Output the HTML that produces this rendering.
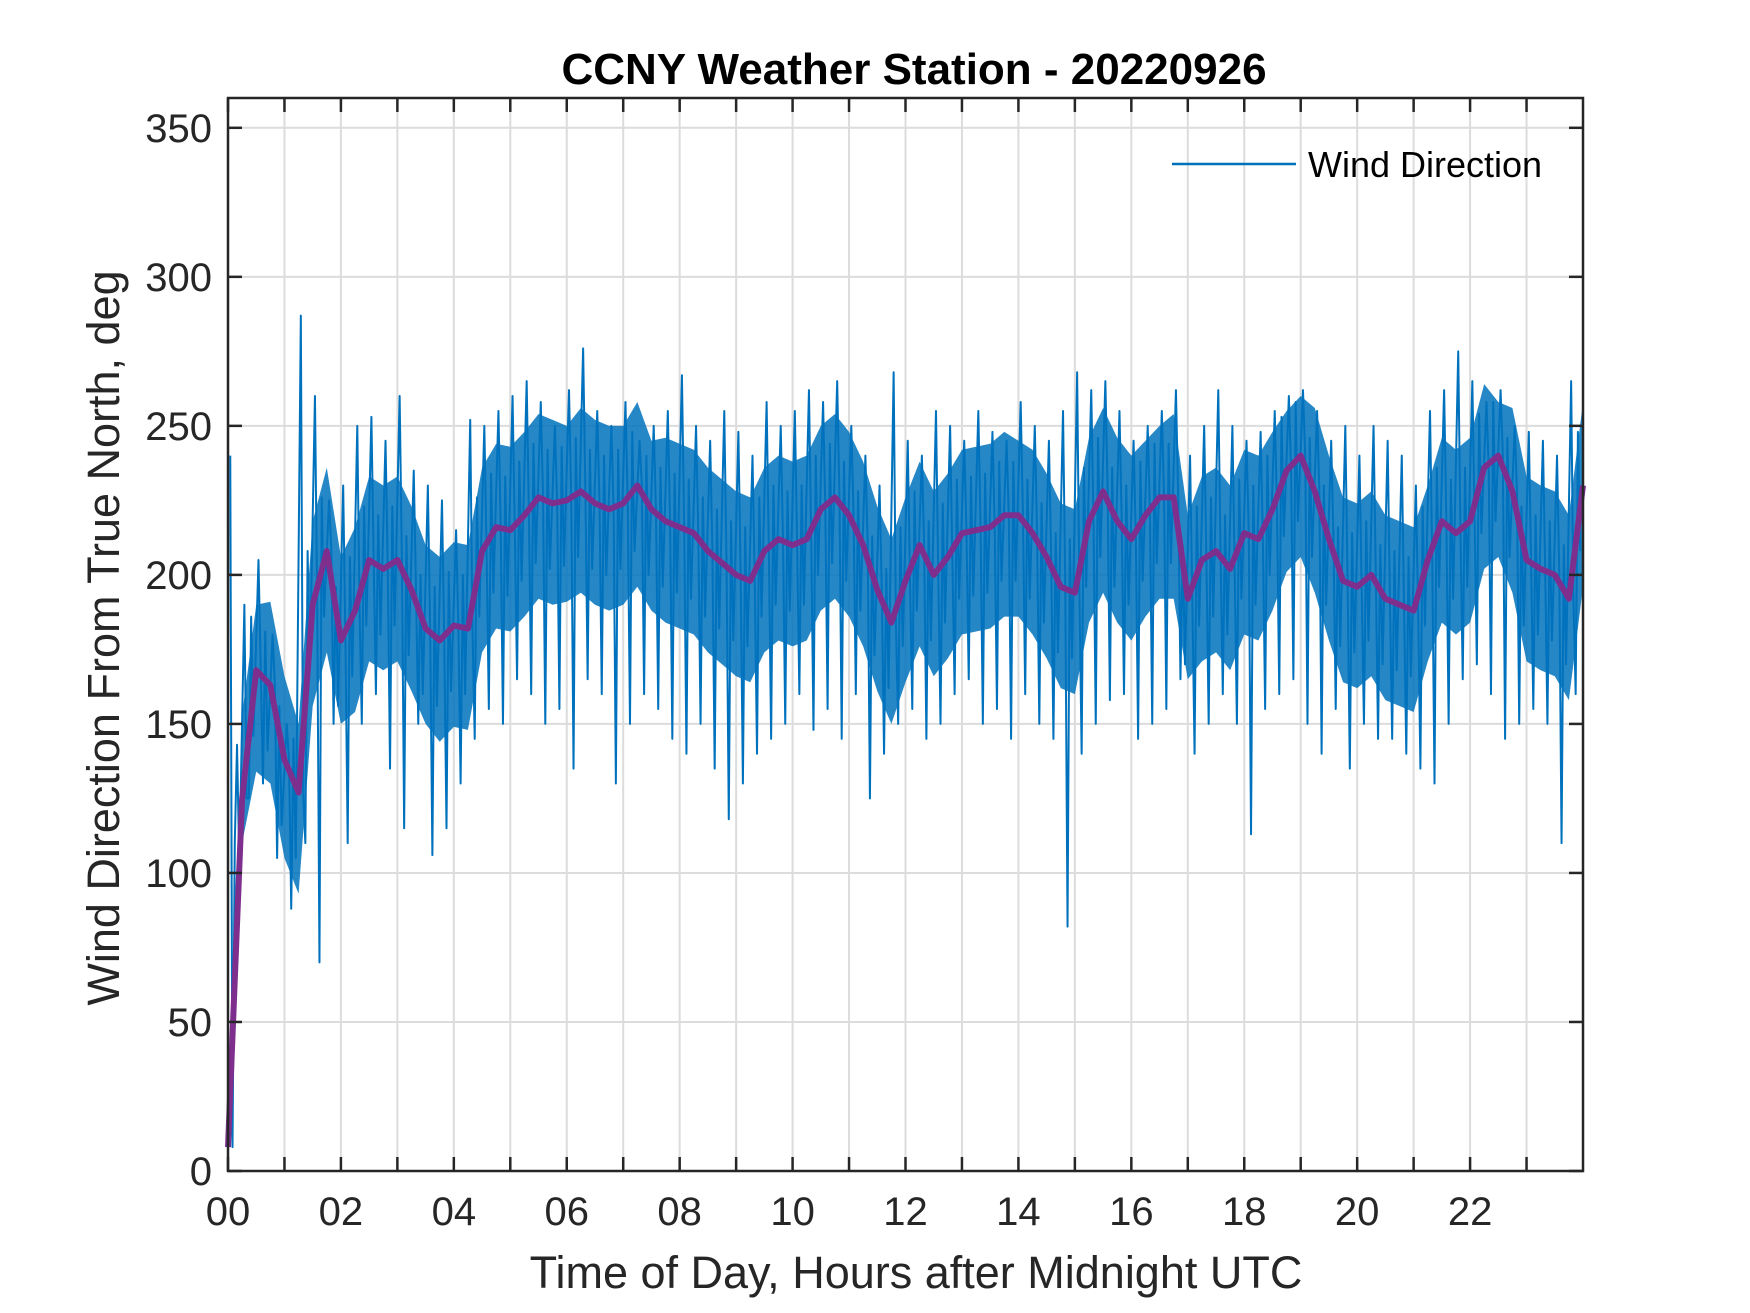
<!DOCTYPE html>
<html><head><meta charset="utf-8"><style>
html,body{margin:0;padding:0;background:#fff;}
svg{display:block;font-family:"Liberation Sans",Arial,sans-serif;}
</style></head><body>
<svg id="chart" width="1750" height="1313" viewBox="0 0 1750 1313" xmlns="http://www.w3.org/2000/svg">
<rect width="1750" height="1313" fill="#fff"/>
<text x="914" y="84" text-anchor="middle" font-size="44" font-weight="bold" fill="#000">CCNY Weather Station - 20220926</text>
<g id="grid"></g>
<g id="series"></g>
<g id="axes"></g>
<text x="916" y="1288" text-anchor="middle" font-size="45" fill="#262626">Time of Day, Hours after Midnight UTC</text>
<text transform="translate(119,638) rotate(-90)" text-anchor="middle" font-size="45" fill="#262626">Wind Direction From True North, deg</text>
<g>
<line x1="1172" y1="164" x2="1296" y2="164" stroke="#0072BD" stroke-width="2.5"/>
<text x="1308" y="177" font-size="36" fill="#000">Wind Direction</text>
</g>
</svg>
<script>
// ---- data ----
const xTicks = ["00","02","04","06","08","10","12","14","16","18","20","22"];
const yTicks = [0,50,100,150,200,250,300,350];
// smoothed wind direction, every 0.25 h
const smoothDir = [8,125,168,163,138,127,190,208,178,188,205,202,205,195,182,178,183,182,208,216,215,220,226,224,225,228,224,222,224,230,222,218,216,214,208,204,200,198,208,212,210,212,222,226,220,210,195,184,198,210,200,206,214,215,216,220,220,214,206,196,194,218,228,218,212,220,226,226,192,205,208,202,214,212,222,235,240,228,212,198,196,200,192,190,188,205,218,214,218,236,240,228,205,202,200,192,230];
// raw wind direction high/low within each 0.25 h interval
const rawHigh = [240,190,205,180,150,287,260,225,230,250,253,245,260,235,230,225,215,252,250,255,260,265,258,250,262,276,255,250,258,245,250,255,267,250,245,255,248,240,258,250,255,262,258,265,250,240,230,268,245,240,255,250,245,255,248,245,258,250,245,255,268,262,265,255,245,250,255,262,240,250,262,250,245,248,255,260,262,255,245,250,240,250,245,240,230,255,262,275,265,258,262,250,248,245,240,265];
const rawLow  = [110,125,130,105,88,110,70,150,110,150,160,135,115,150,106,115,130,145,155,150,165,160,150,155,135,165,160,130,150,160,155,145,140,150,135,118,130,140,145,150,160,148,155,145,160,125,140,150,155,145,150,160,165,150,155,145,160,150,145,82,140,150,158,160,145,150,155,165,140,150,160,150,113,155,160,165,150,140,155,135,150,145,145,140,135,130,150,165,170,160,145,150,155,150,110,160];

// ---- scales ----
const L=228, R=1583, T=98, B=1171;
const xMax=24, yMax=360;
const xs = h => L + (h/xMax)*(R-L);
const ys = v => B - (v/yMax)*(B-T);
const NS="http://www.w3.org/2000/svg";
function mk(tag, attrs, parent){
  const e=document.createElementNS(NS,tag);
  for(const k in attrs) e.setAttribute(k,attrs[k]);
  parent.appendChild(e); return e;
}
const gridG=document.getElementById('grid');
const axesG=document.getElementById('axes');
const seriesG=document.getElementById('series');

for(let h=1;h<24;h++){
  const g=mk('line',{x1:xs(h),x2:xs(h),y1:T,y2:B,stroke:'#dcdcdc','stroke-width':2},gridG);
  
  
}
yTicks.forEach(v=>{
  if(v===0) return;
  const g=mk('line',{x1:L,x2:R,y1:ys(v),y2:ys(v),stroke:'#dcdcdc','stroke-width':2},gridG);
  
  
});

// dense core of raw series: band around the smoothed trace, bounded by raw extremes
const core=28;
let bandTop=[], bandBot=[];
for(let i=1;i<smoothDir.length;i++){
  const t=i*0.25;
  const hi=Math.min(rawHigh[Math.min(i-1,rawHigh.length-1)], smoothDir[i]+core);
  const lo=Math.max(rawLow[Math.min(i-1,rawLow.length-1)], smoothDir[i]-core-6);
  bandTop.push(xs(t)+','+ys(hi));
  bandBot.unshift(xs(t)+','+ys(lo));
}
const band=mk('polygon',{points:bandTop.concat(bandBot).join(' '),fill:'#0072BD','fill-opacity':0.85,stroke:'none'},seriesG);



// raw spikes
let pts=[];
for(let i=0;i<rawHigh.length;i++){
  const t=i*0.25;
  pts.push(xs(t+0.04)+','+ys(rawHigh[i]));
  pts.push(xs(t+0.08)+','+ys(smoothDir[i]));
  pts.push(xs(t+0.12)+','+ys(rawLow[i]));
  pts.push(xs(t+0.16)+','+ys(smoothDir[i+1]+18));
  pts.push(xs(t+0.2)+','+ys(smoothDir[i+1]-22));
}
const raw=mk('polyline',{points:pts.join(' '),fill:'none',stroke:'#0072BD','stroke-width':2,'stroke-linejoin':'round'},seriesG);



const sp=smoothDir.map((v,i)=>xs(i*0.25)+','+ys(v)).join(' ');
const sm=mk('polyline',{points:sp,fill:'none',stroke:'#7E2F8E','stroke-width':6,'stroke-linejoin':'round'},seriesG);



const box=mk('rect',{x:L,y:T,width:R-L,height:B-T,fill:'none',stroke:'#262626','stroke-width':2.5},axesG);



for(let h=0;h<24;h++){
  mk('line',{x1:xs(h),x2:xs(h),y1:B,y2:B-14,stroke:'#262626','stroke-width':2.5},axesG);
  mk('line',{x1:xs(h),x2:xs(h),y1:T,y2:T+14,stroke:'#262626','stroke-width':2.5},axesG);
}
xTicks.forEach((lab,i)=>{
  const t=mk('text',{x:xs(i*2),y:1225,'text-anchor':'middle','font-size':40,fill:'#262626'},axesG);
  t.textContent=lab;
  
  
});
yTicks.forEach(v=>{
  mk('line',{x1:L,x2:L+14,y1:ys(v),y2:ys(v),stroke:'#262626','stroke-width':2.5},axesG);
  mk('line',{x1:R,x2:R-14,y1:ys(v),y2:ys(v),stroke:'#262626','stroke-width':2.5},axesG);
  const t=mk('text',{x:212,y:ys(v)+14,'text-anchor':'end','font-size':40,fill:'#262626'},axesG);
  t.textContent=v;
  
  
});
</script>
</body></html>
